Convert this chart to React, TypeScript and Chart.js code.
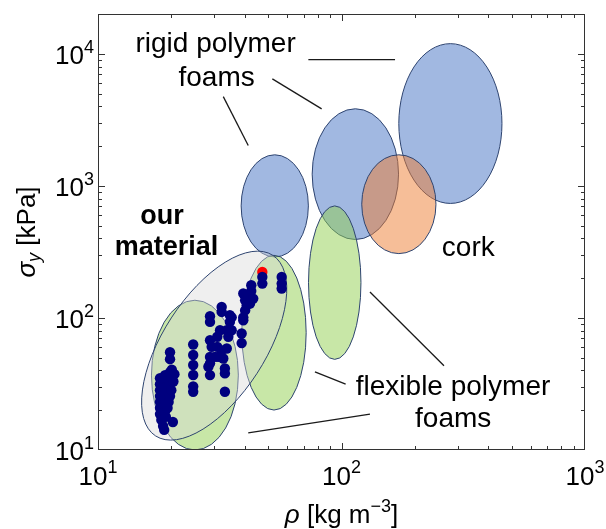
import { useEffect, useRef } from "react";
import { Chart, registerables } from "chart.js";

Chart.register(...registerables);

const FONT = '"Liberation Sans", Arial, Helvetica, sans-serif';

// Measured samples: density ρ [kg m^-3] and yield strength σy [kPa]
const sampleDensity = [
  17.97, 17.97, 17.97, 17.97, 17.97, 17.97, 17.97, 18.2, 18.5, 18.7,
  18.85, 18.85, 18.85, 18.85, 18.85, 18.85, 18.85, 19.0,
  19.76, 19.76, 19.76, 20.0, 20.0, 19.5, 19.3, 19.76, 19.76, 20.3, 20.1, 20.6, 20.4,
  24.6, 24.6, 24.6, 24.6, 24.6, 24.6,
  28.84, 32.2, 32.2, 34.8, 34.8, 28.84, 28.84, 29.3, 30.9, 31.7, 33.8, 34.3,
  28.84, 28.84, 28.4, 31.2, 32.7, 33.2, 33.2, 33.2, 30.9, 32.2, 33.8, 28.84,
  30.2, 35.4, 35.4,
  38.9, 38.9, 39.5, 40.2, 40.2, 39.5, 41.4, 42.6, 42.6, 43.4, 40.8, 42.1, 39.5,
  47.3, 47.3,
  56.8, 56.8, 56.8,
];
const sampleStrength = [
  35.0, 31.5, 28.4, 25.6, 23.1, 20.8, 18.7, 16.9, 15.2, 14.2,
  36.9, 33.2, 29.9, 27.0, 24.3, 21.9, 19.7, 17.8,
  38.9, 31.5, 25.6, 35.0, 28.4, 23.1, 20.8, 55.0, 48.7, 16.3, 40.5, 37.5, 33.0,
  62.9, 52.4, 44.0, 37.0, 30.3, 27.6,
  103, 121, 111, 104.8, 93.3, 93.3, 67.7, 60.4, 72, 80.7, 80.7, 72,
  50.7, 45.3, 42.7, 50.7, 49.3, 41.4, 38.0, 27.6, 60.4, 56.7, 58.7, 36.9,
  50.7, 101, 80.7,
  76.2, 64.5, 153, 136, 114, 101, 144, 160, 176.6, 140, 124.7, 128.5, 96.1,
  204, 182,
  204, 182, 166.8,
];

// Highlighted sample
const highlightDensity = [47.3];
const highlightStrength = [223];

// Material-family envelopes: centre, and the ends of two conjugate semi-axes (ρ, σy)
const envelopeCentre = [
  [280, 2963], [114, 1226], [53.2, 705], [172, 726],
  [93.8, 185], [52.8, 77.3], [25.0, 36.9], [30.0, 61.7],
];
const envelopeAxisA = [
  [456, 2963], [171.5, 1226], [73.1, 705], [244.3, 726],
  [120.2, 185], [71.6, 77.3], [37.7, 36.9], [52.2, 298],
];
const envelopeAxisB = [
  [280, 11930], [114, 3832], [53.2, 1718], [172, 1718],
  [93.8, 705], [52.8, 297.8], [25.0, 136.1], [20.0, 100],
];
const envelopeFamily = [
  "rigid", "rigid", "rigid", "cork",
  "flexible", "flexible", "flexible", "ours",
];

// Leader lines from the labels to the envelopes
const leaderStart = [
  [73.1, 9024], [52.0, 6450], [32.7, 4739],
  [130.9, 157.2], [77.8, 39.1], [41.4, 13.5],
];
const leaderEnd = [
  [165.9, 9024], [82.9, 3826], [41.4, 2021],
  [263.6, 43.4], [104.0, 31.5], [130.9, 18.7],
];

// Label text, anchored at (ρ, σy) of its centre baseline
const labelText = ["rigid polymer", "foams", "our", "material", "cork", "flexible polymer", "foams"];
const labelAt = [
  [30.4, 10247], [30.7, 5741], [18.31, 517], [19.11, 297.8],
  [331.6, 292.6], [287.1, 26.0], [287.5, 15.0],
];
const labelBold = [false, false, true, true, false, false, false];

const xMajorTicks = [10, 100, 1000];
const yMajorTicks = [10, 100, 1000, 10000];

const familyFill: Record<string, string> = {
  rigid: "rgba(68,114,196,0.5)",
  cork: "rgba(237,125,49,0.5)",
  flexible: "rgba(146,208,80,0.5)",
  ours: "rgba(217,217,217,0.42)",
};

function minorTicks(min: number, max: number): number[] {
  const out: number[] = [];
  for (let d = Math.pow(10, Math.floor(Math.log10(min))); d < max; d *= 10) {
    for (let m = 2; m <= 9; m++) {
      const v = m * d;
      if (v > min && v < max) out.push(v);
    }
  }
  return out;
}

const overlay = {
  id: "overlay",
  beforeDatasetsDraw(chart: any) {
    const { ctx, chartArea: a, scales } = chart;
    const xs = scales.x;
    const ys = scales.y;
    ctx.save();
    ctx.beginPath();
    ctx.rect(a.left, a.top, a.right - a.left, a.bottom - a.top);
    ctx.clip();
    envelopeCentre.forEach((c, i) => {
      const cx = xs.getPixelForValue(c[0]);
      const cy = ys.getPixelForValue(c[1]);
      const ax = xs.getPixelForValue(envelopeAxisA[i][0]) - cx;
      const ay = ys.getPixelForValue(envelopeAxisA[i][1]) - cy;
      const bx = xs.getPixelForValue(envelopeAxisB[i][0]) - cx;
      const by = ys.getPixelForValue(envelopeAxisB[i][1]) - cy;
      ctx.beginPath();
      ctx.save();
      ctx.transform(ax, ay, bx, by, cx, cy);
      ctx.arc(0, 0, 1, 0, Math.PI * 2);
      ctx.restore();
      ctx.fillStyle = familyFill[envelopeFamily[i]];
      ctx.fill();
      ctx.lineWidth = 1;
      ctx.strokeStyle = "#2E4470";
      ctx.stroke();
    });
    // leader lines
    ctx.strokeStyle = "#1a1a1a";
    ctx.lineWidth = 1.3;
    leaderStart.forEach((s, i) => {
      ctx.beginPath();
      ctx.moveTo(xs.getPixelForValue(s[0]), ys.getPixelForValue(s[1]));
      ctx.lineTo(xs.getPixelForValue(leaderEnd[i][0]), ys.getPixelForValue(leaderEnd[i][1]));
      ctx.stroke();
    });
    ctx.restore();
  },
  afterDatasetsDraw(chart: any) {
    const { ctx, chartArea: a, scales } = chart;
    const xs = scales.x;
    const ys = scales.y;
    ctx.save();

    // labels
    ctx.fillStyle = "#000";
    ctx.textAlign = "center";
    ctx.textBaseline = "alphabetic";
    labelText.forEach((t, i) => {
      ctx.font = `${labelBold[i] ? "bold 27px" : "28px"} ${FONT}`;
      ctx.fillText(t, xs.getPixelForValue(labelAt[i][0]), ys.getPixelForValue(labelAt[i][1]));
    });

    // frame
    ctx.strokeStyle = "#333";
    ctx.lineWidth = 1;
    ctx.strokeRect(a.left + 0.5, a.top + 0.5, a.right - a.left - 1, a.bottom - a.top - 1);

    // inward ticks on all four sides
    const tick = (vals: number[], len: number) => {
      vals.forEach((v) => {
        const px = Math.round(xs.getPixelForValue(v)) + 0.5;
        ctx.beginPath();
        ctx.moveTo(px, a.bottom);
        ctx.lineTo(px, a.bottom - len);
        ctx.moveTo(px, a.top);
        ctx.lineTo(px, a.top + len);
        ctx.stroke();
      });
    };
    const tickY = (vals: number[], len: number) => {
      vals.forEach((v) => {
        const py = Math.round(ys.getPixelForValue(v)) + 0.5;
        ctx.beginPath();
        ctx.moveTo(a.left, py);
        ctx.lineTo(a.left + len, py);
        ctx.moveTo(a.right, py);
        ctx.lineTo(a.right - len, py);
        ctx.stroke();
      });
    };
    tick(xMajorTicks.filter((v) => v > xs.min && v < xs.max), 7);
    tick(minorTicks(xs.min, xs.max), 4);
    tickY(yMajorTicks.filter((v) => v > ys.min && v < ys.max), 7);
    tickY(minorTicks(ys.min, ys.max), 4);

    // power-of-ten tick labels
    const base = `26px ${FONT}`;
    const sup = `18px ${FONT}`;
    ctx.textAlign = "left";
    ctx.fillStyle = "#000";
    const pow = (v: number) => String(Math.round(Math.log10(v)));
    yMajorTicks.forEach((v) => {
      const py = ys.getPixelForValue(v);
      ctx.font = base;
      const w1 = ctx.measureText("10").width;
      ctx.font = sup;
      const w2 = ctx.measureText(pow(v)).width;
      const x0 = a.left - 4 - w1 - w2;
      ctx.font = base;
      ctx.fillText("10", x0, py + 10);
      ctx.font = sup;
      ctx.fillText(pow(v), x0 + w1, py - 1);
    });
    xMajorTicks.forEach((v) => {
      const px = xs.getPixelForValue(v);
      ctx.font = base;
      const w1 = ctx.measureText("10").width;
      ctx.font = sup;
      const w2 = ctx.measureText(pow(v)).width;
      const x0 = px - (w1 + w2) / 2;
      ctx.font = base;
      ctx.fillText("10", x0, a.bottom + 35);
      ctx.font = sup;
      ctx.fillText(pow(v), x0 + w1, a.bottom + 23);
    });

    // x axis title: ρ [kg m^-3]
    const parts: [string, string, number][] = [
      ["ρ", `italic 26px ${FONT}`, 0],
      [" [kg m", `26px ${FONT}`, 0],
      ["−3", `18px ${FONT}`, -11],
      ["]", `26px ${FONT}`, 0],
    ];
    const drawParts = (p: [string, string, number][], cx: number, baseline: number) => {
      let total = 0;
      p.forEach(([t, f]) => {
        ctx.font = f;
        total += ctx.measureText(t).width;
      });
      let x = cx - total / 2;
      p.forEach(([t, f, dy]) => {
        ctx.font = f;
        ctx.fillText(t, x, baseline + dy);
        x += ctx.measureText(t).width;
      });
    };
    drawParts(parts, (a.left + a.right) / 2, a.bottom + 73);

    // y axis title: σy [kPa]
    ctx.save();
    ctx.translate(35, (a.top + a.bottom) / 2);
    ctx.rotate(-Math.PI / 2);
    drawParts(
      [
        ["σ", `italic 26px ${FONT}`, 0],
        ["y", `italic 18px ${FONT}`, 5],
        [" [kPa]", `26px ${FONT}`, 0],
      ],
      0,
      0
    );
    ctx.restore();

    ctx.restore();
  },
};

export default function App() {
  const ref = useRef<HTMLCanvasElement | null>(null);

  useEffect(() => {
    if (!ref.current) return;
    const chart = new Chart(ref.current, {
      type: "scatter",
      data: {
        datasets: [
          {
            data: sampleDensity.map((x, i) => ({ x, y: sampleStrength[i] })),
            backgroundColor: "#00007F",
            borderWidth: 0,
            pointRadius: 5.2,
          },
          {
            data: highlightDensity.map((x, i) => ({ x, y: highlightStrength[i] })),
            backgroundColor: "#FF0000",
            borderWidth: 0,
            pointRadius: 5.2,
          },
        ],
      },
      options: {
        responsive: false,
        animation: false,
        events: [],
        layout: { padding: { left: 98, right: 21, top: 14, bottom: 79 } },
        scales: {
          x: { type: "logarithmic", min: 10, max: 1000, display: false },
          y: { type: "logarithmic", min: 10, max: 20000, display: false },
        },
        plugins: { legend: { display: false }, tooltip: { enabled: false } },
      },
      plugins: [overlay],
    });
    return () => chart.destroy();
  }, []);

  return (
    <div style={{ position: "absolute", left: 0, top: 0, width: 606, height: 529, background: "#fff" }}>
      <canvas ref={ref} width={606} height={529} style={{ width: 606, height: 529 }} />
    </div>
  );
}
